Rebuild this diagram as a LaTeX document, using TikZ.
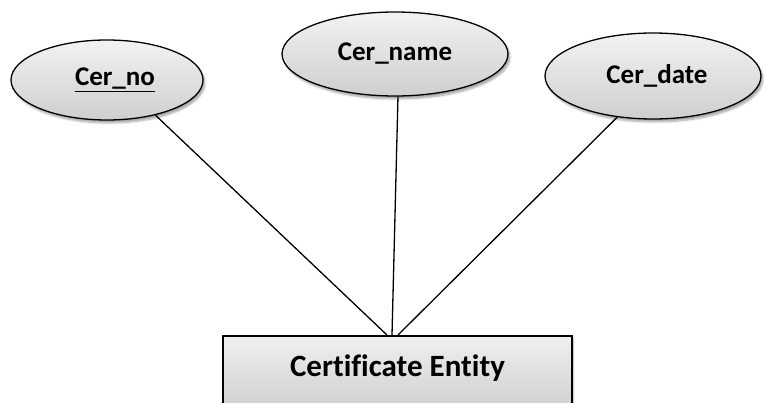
\documentclass[tikz,border=0pt]{standalone}
\usepackage{fontspec}
\setmainfont{Carlito}[Ligatures=NoCommon]
\usetikzlibrary{shapes.geometric,shadows.blur,calc}
\begin{document}
\begin{tikzpicture}[x=1pt,y=-1pt,
  attr/.style={ellipse, draw=black, line width=1.3pt,
    top color=gray!10, bottom color=gray!38,
    blur shadow={shadow xshift=2pt, shadow yshift=-3pt, shadow blur steps=6, shadow opacity=35},
    inner sep=0pt, font=\fontsize{27}{32}\selectfont\bfseries},
  entity/.style={rectangle, draw=black, line width=1.8pt,
    top color=gray!12, bottom color=gray!38,
    blur shadow={shadow xshift=1pt, shadow yshift=-2pt, shadow blur steps=6, shadow opacity=35},
    inner sep=0pt, text height=22pt, text depth=16pt,
    font=\fontsize{31}{36}\selectfont\bfseries},
  link/.style={line width=1.3pt}]
\useasboundingbox (0,0) rectangle (764,403);
\clip (0,0) rectangle (764,403);

% attributes (the leading space nudges a label right of its ellipse centre)
\node[attr, minimum width=192pt, minimum height=80pt] (no) at (107,80) {\hspace*{16pt}\underline{Cer\_no}};
\node[attr, minimum width=226pt, minimum height=84pt] (nm) at (395,54) {Cer\_name};
\node[attr, minimum width=216pt, minimum height=86pt] (dt) at (653,76) {\hspace*{8pt}Cer\_date};

% entity
\node[entity, anchor=north, minimum width=349pt, minimum height=76pt] (ent) at (397.5,335) {Certificate Entity};

% connectors
\coordinate (jl) at ($(ent.north)+(-10.5,0)$);
\coordinate (jm) at ($(ent.north)+(-5.5,0)$);
\coordinate (jr) at ($(ent.north)+(0.5,0)$);
\draw[link] (no.-36) -- (jl);
\draw[link] (nm.-86) -- (jm);
\draw[link] (dt.-131) -- (jr);
\end{tikzpicture}
\end{document}
